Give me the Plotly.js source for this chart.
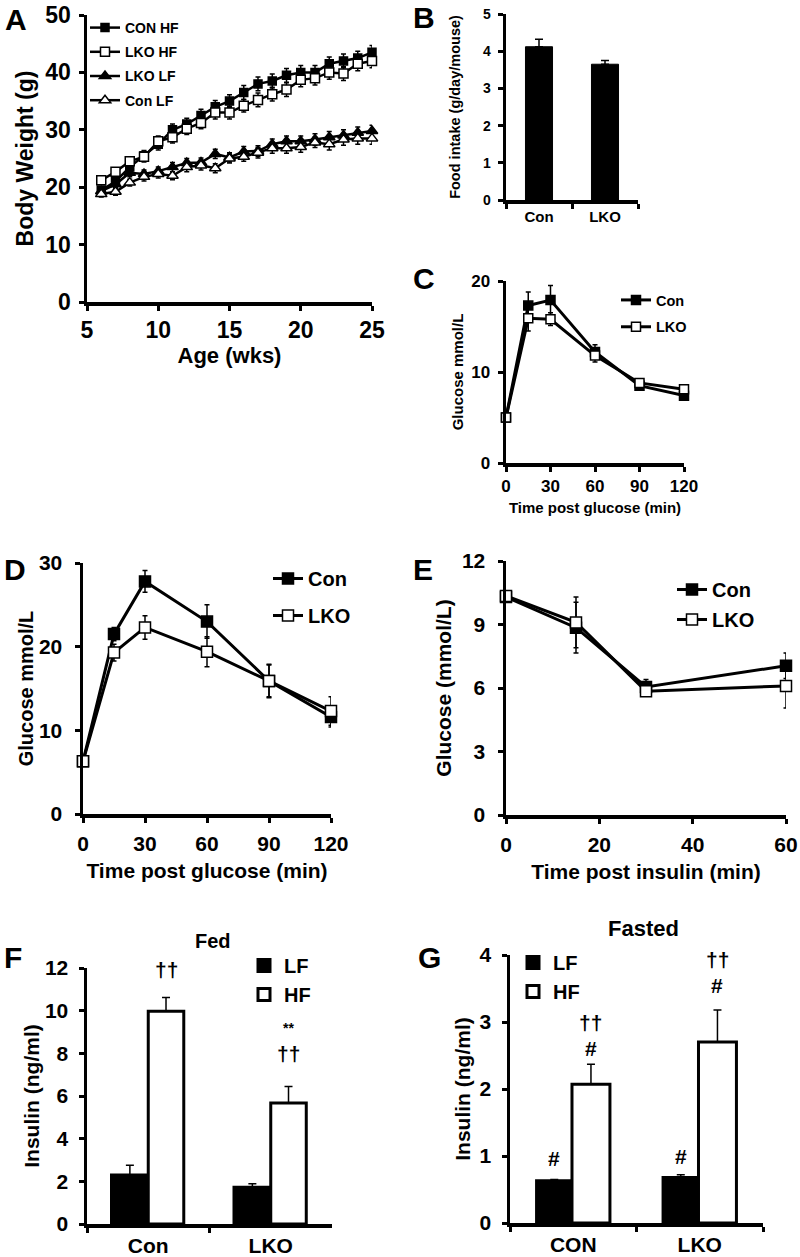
<!DOCTYPE html>
<html>
<head>
<meta charset="utf-8">
<script src="https://cdn.plot.ly/plotly-3.0.1.min.js"></script>
<style>
  html, body { margin: 0; padding: 0; background: white; }
  #plot { width: 800px; height: 1257px; }
</style>
</head>
<body>
<div id="plot"></div>
<script>
// --- panel A: body weight ---
const weeks = [6, 7, 8, 9, 10, 11, 12, 13, 14, 15, 16, 17, 18, 19, 20, 21, 22, 23, 24, 25];
const conHF = [19.5, 21.0, 23.5, 25.5, 27.5, 30.0, 31.0, 32.5, 34.0, 35.0, 36.5, 38.0, 38.5, 39.5, 40.0, 40.0, 41.5, 42.0, 42.5, 43.5];
const conHFerr = [0.6, 0.8, 0.9, 0.9, 1.0, 1.0, 1.0, 1.1, 1.1, 1.1, 1.2, 1.2, 1.2, 1.2, 1.2, 1.2, 1.2, 1.2, 1.2, 1.2];
const lkoHF = [21.2, 22.7, 24.5, 25.3, 28.0, 28.7, 30.2, 31.2, 33.0, 33.0, 34.2, 35.2, 36.2, 37.0, 38.7, 39.0, 40.0, 39.8, 41.5, 42.0];
const lkoHFerr = [0.6, 0.7, 0.8, 0.9, 0.9, 1.0, 1.0, 1.0, 1.1, 1.1, 1.1, 1.2, 1.2, 1.2, 1.2, 1.2, 1.2, 1.2, 1.2, 1.2];
const lkoLF = [19.3, 20.5, 22.5, 22.3, 22.8, 23.5, 24.2, 24.3, 25.8, 25.2, 26.2, 26.3, 27.5, 28.0, 28.0, 28.3, 28.7, 29.0, 29.5, 29.8];
const lkoLFerr = [0.5, 0.6, 0.7, 0.7, 0.7, 0.8, 0.8, 0.8, 0.8, 0.8, 0.9, 0.9, 0.9, 0.9, 0.9, 1.0, 1.0, 1.0, 1.0, 1.0];
const conLF = [18.8, 19.2, 20.8, 21.8, 22.3, 22.0, 23.5, 23.8, 23.3, 25.0, 25.3, 26.0, 26.8, 26.8, 27.0, 27.8, 27.5, 28.3, 28.5, 28.5];
const conLFerr = [0.5, 0.6, 0.6, 0.7, 0.7, 0.7, 0.8, 0.8, 0.8, 0.8, 0.8, 0.9, 0.9, 0.9, 0.9, 0.9, 1.0, 1.0, 1.0, 1.0];

// --- panel B: food intake ---
const genotypes = ['Con', 'LKO'];
const intake = [4.12, 3.65];
const intakeErr = [0.2, 0.1];

// --- panel C: GTT (chow) ---
const gttTime = [0, 15, 30, 60, 90, 120];
const cCon = [5.0, 17.3, 17.9, 12.2, 8.5, 7.4];
const cConErr = [0.3, 1.5, 1.6, 0.8, 0.3, 0.4];
const cLko = [5.0, 15.9, 15.8, 11.8, 8.8, 8.1];
const cLkoErr = [0.3, 1.4, 0.7, 0.7, 0.3, 0.4];

// --- panel D: GTT (HF) ---
const dCon = [6.3, 21.5, 27.8, 23.0, 15.9, 11.6];
const dConErr = [0.5, 0.8, 1.3, 2.0, 2.0, 1.2];
const dLko = [6.3, 19.3, 22.3, 19.4, 15.9, 12.3];
const dLkoErr = [0.5, 1.0, 1.4, 1.8, 1.9, 1.7];

// --- panel E: ITT ---
const ittTime = [0, 15, 30, 60];
const eCon = [10.3, 8.85, 6.05, 7.05];
const eConErr = [0.2, 1.2, 0.35, 0.6];
const eLko = [10.35, 9.1, 5.85, 6.1];
const eLkoErr = [0.2, 1.2, 0.2, 1.05];

// --- panel F/G: insulin ---
const fedLF = [2.3, 1.72], fedLFerr = [0.45, 0.17];
const fedHF = [9.97, 5.67], fedHFerr = [0.65, 0.78];
const fastGroups = ['CON', 'LKO'];
const fastLF = [0.63, 0.68], fastLFerr = [0.02, 0.04];
const fastHF = [2.07, 2.7], fastHFerr = [0.3, 0.48];

const FONT = 'Liberation Sans, Arial, sans-serif';
const W = 800, H = 1257;
const px = (a, b) => [a / W, b / W];
const py = (bottom, top) => [1 - bottom / H, 1 - top / H];
const f = (size) => ({ family: FONT, size: size, color: 'black', weight: 'bold' });

function lineTrace(x, y, err, xa, ya, name, symbol, filled, size, lw, legend) {
  return {
    x: x, y: y, xaxis: xa, yaxis: ya, name: name, legend: legend, legendgroup: legend + name,
    type: 'scatter', mode: 'lines+markers', cliponaxis: false,
    line: { color: 'black', width: lw },
    marker: { symbol: symbol, size: size, color: filled ? 'black' : 'white',
              line: { color: 'black', width: 1.5 } },
    error_y: { type: 'data', array: err, visible: true, color: 'black', thickness: 1.5, width: 2.5 }
  };
}

function barTrace(x, y, err, xa, ya, name, filled, offset, width, legend, show) {
  return {
    x: x, y: y, xaxis: xa, yaxis: ya, name: name, legend: legend, legendgroup: legend + name,
    showlegend: show, type: 'bar', offset: offset, width: width,
    marker: { color: filled ? 'black' : 'white', line: { color: 'black', width: 3 } },
    error_y: { type: 'data', symmetric: false, array: err, arrayminus: err.map(() => 0),
               visible: true, color: 'black', thickness: 1.5, width: 4 }
  };
}

function axis(domain, anchor, extra) {
  return Object.assign({
    domain: domain, anchor: anchor, showline: true, linewidth: 3.5, linecolor: 'black',
    showgrid: false, zeroline: false, ticks: 'outside', ticklen: 5, tickwidth: 3, tickcolor: 'black'
  }, extra);
}

const data = [
  lineTrace(weeks, conHF, conHFerr, 'x', 'y', 'CON HF', 'square', true, 8, 2.5, 'legend'),
  lineTrace(weeks, lkoHF, lkoHFerr, 'x', 'y', 'LKO HF', 'square', false, 9, 2.5, 'legend'),
  lineTrace(weeks, lkoLF, lkoLFerr, 'x', 'y', 'LKO LF', 'triangle-up', true, 10, 2.5, 'legend'),
  lineTrace(weeks, conLF, conLFerr, 'x', 'y', 'Con LF', 'triangle-up', false, 10, 2.5, 'legend'),

  Object.assign(barTrace(genotypes, intake, intakeErr, 'x2', 'y2', 'intake', true, -0.205, 0.41, 'legend', false),
    { marker: { color: 'black', line: { color: 'black', width: 1 } } }),

  lineTrace(gttTime, cCon, cConErr, 'x3', 'y3', 'Con', 'square', true, 9, 3, 'legend2'),
  lineTrace(gttTime, cLko, cLkoErr, 'x3', 'y3', 'LKO', 'square', false, 9, 3, 'legend2'),

  lineTrace(gttTime, dCon, dConErr, 'x4', 'y4', 'Con', 'square', true, 11, 3, 'legend3'),
  lineTrace(gttTime, dLko, dLkoErr, 'x4', 'y4', 'LKO', 'square', false, 11, 3, 'legend3'),

  lineTrace(ittTime, eCon, eConErr, 'x5', 'y5', 'Con', 'square', true, 11, 3, 'legend4'),
  lineTrace(ittTime, eLko, eLkoErr, 'x5', 'y5', 'LKO', 'square', false, 11, 3, 'legend4'),

  barTrace(genotypes, fedLF, fedLFerr, 'x6', 'y6', 'LF', true, -0.3, 0.3, 'legend5', true),
  barTrace(genotypes, fedHF, fedHFerr, 'x6', 'y6', 'HF', false, 0, 0.29, 'legend5', true),

  barTrace(fastGroups, fastLF, fastLFerr, 'x7', 'y7', 'LF', true, -0.29, 0.28, 'legend6', true),
  barTrace(fastGroups, fastHF, fastHFerr, 'x7', 'y7', 'HF', false, -0.01, 0.3, 'legend6', true)
];

const legendBase = { bgcolor: 'rgba(0,0,0,0)', xanchor: 'left', yanchor: 'top', itemwidth: 30,
                     traceorder: 'grouped' };

const layout = {
  width: W, height: H,
  margin: { l: 0, r: 0, t: 0, b: 0 },
  paper_bgcolor: 'white', plot_bgcolor: 'white',
  font: f(14),
  barmode: 'overlay',

  xaxis: axis(px(87, 372), 'y', { range: [5, 25], tickvals: [5, 10, 15, 20, 25], tickfont: f(23),
    ticklabelstandoff: 0, title: { text: 'Age (wks)', font: f(22), standoff: 0 } }),
  yaxis: axis(py(302, 15), 'x', { range: [0, 50], tickvals: [0, 10, 20, 30, 40, 50], tickfont: f(23),
    ticklabelstandoff: 3, title: { text: 'Body Weight (g)', font: f(23), standoff: 6 } }),

  xaxis2: axis(px(506, 638), 'y2', { type: 'category', range: [-0.5, 1.5], tickson: 'boundaries',
    tickfont: f(15) }),
  yaxis2: axis(py(200, 14), 'x2', { range: [0, 5], tickvals: [0, 1, 2, 3, 4, 5], tickfont: f(14),
    ticklabelstandoff: 4, title: { text: 'Food intake (g/day/mouse)', font: f(14.5), standoff: 20 } }),

  xaxis3: axis(px(506, 684), 'y3', { range: [0, 120], tickvals: [0, 30, 60, 90, 120], tickfont: f(17),
    ticklabelstandoff: 0, title: { text: 'Time post glucose (min)', font: f(15), standoff: 8 } }),
  yaxis3: axis(py(463, 281), 'x3', { range: [0, 20], tickvals: [0, 10, 20], tickfont: f(17),
    ticklabelstandoff: 4, title: { text: 'Glucose mmol/L', font: f(15), standoff: 5 } }),

  xaxis4: axis(px(83, 331), 'y4', { range: [0, 120], tickvals: [0, 30, 60, 90, 120], tickfont: f(21),
    ticklabelstandoff: 3, title: { text: 'Time post glucose (min)', font: f(21), standoff: 10 } }),
  yaxis4: axis(py(814, 563), 'x4', { range: [0, 30], tickvals: [0, 10, 20, 30], tickfont: f(21),
    ticklabelstandoff: 8, title: { text: 'Glucose mmol/L', font: f(20), standoff: 1 } }),

  xaxis5: axis(px(506, 786), 'y5', { range: [0, 60], tickvals: [0, 20, 40, 60], tickfont: f(21),
    ticklabelstandoff: 3, title: { text: 'Time post insulin (min)', font: f(21), standoff: 10 } }),
  yaxis5: axis(py(815, 561), 'x5', { range: [0, 12], tickvals: [0, 3, 6, 9, 12], tickfont: f(21),
    ticklabelstandoff: 8, title: { text: 'Glucose (mmol/L)', font: f(21), standoff: 5 } }),

  xaxis6: axis(px(87, 332), 'y6', { type: 'category', range: [-0.5, 1.5], tickson: 'boundaries',
    tickfont: f(21) }),
  yaxis6: axis(py(1224, 968), 'x6', { range: [0, 12], tickvals: [0, 2, 4, 6, 8, 10, 12], tickfont: f(21),
    ticklabelstandoff: 6, title: { text: 'Insulin (ng/ml)', font: f(21), standoff: 0 } }),

  xaxis7: axis(px(510, 763), 'y7', { type: 'category', range: [-0.5, 1.5], tickson: 'boundaries',
    tickfont: f(21) }),
  yaxis7: axis(py(1223, 955), 'x7', { range: [0, 4], tickvals: [0, 1, 2, 3, 4], tickfont: f(21),
    ticklabelstandoff: 6, title: { text: 'Insulin (ng/ml)', font: f(21), standoff: 4 } }),

  legend: Object.assign({}, legendBase, { x: 85 / W, y: 1 - 12 / H, font: f(14), tracegroupgap: 3 }),
  legend2: Object.assign({}, legendBase, { x: 616 / W, y: 1 - 284 / H, font: f(14.5), tracegroupgap: 5 }),
  legend3: Object.assign({}, legendBase, { x: 268 / W, y: 1 - 559 / H, font: f(20), tracegroupgap: 8 }),
  legend4: Object.assign({}, legendBase, { x: 672 / W, y: 1 - 570 / H, font: f(20), tracegroupgap: 1 }),
  legend5: Object.assign({}, legendBase, { x: 244 / W, y: 1 - 946 / H, font: f(20), tracegroupgap: 0 }),
  legend6: Object.assign({}, legendBase, { x: 513 / W, y: 1 - 943 / H, font: f(20), tracegroupgap: 0 }),

  annotations: [
    // panel letters
    { text: 'A', x: 3 / W, y: 1 - 20 / H },
    { text: 'B', x: 411 / W, y: 1 - 18 / H },
    { text: 'C', x: 411 / W, y: 1 - 278 / H },
    { text: 'D', x: 2 / W, y: 1 - 569 / H },
    { text: 'E', x: 411 / W, y: 1 - 569 / H },
    { text: 'F', x: 2 / W, y: 1 - 957 / H },
    { text: 'G', x: 416 / W, y: 1 - 957 / H }
  ].map(a => Object.assign(a, { xref: 'paper', yref: 'paper', xanchor: 'left', yanchor: 'middle',
                                showarrow: false, font: f(30) }))
  .concat([
    { text: 'Fed', xref: 'paper', yref: 'paper', x: 213 / W, y: 1 - 941 / H, font: f(20) },
    { text: 'Fasted', xref: 'paper', yref: 'paper', x: 643 / W, y: 1 - 928 / H, font: f(22) },
    { text: '**', xref: 'x4', yref: 'y4', x: 24, y: 30.7, font: f(14) },
    { text: '††', xref: 'x6', yref: 'y6', x: 0.145, y: 11.95, font: f(21) },
    { text: '**', xref: 'x6', yref: 'y6', x: 1.145, y: 9.2, font: f(14) },
    { text: '††', xref: 'x6', yref: 'y6', x: 1.145, y: 8.0, font: f(21) },
    { text: '#', xref: 'x7', yref: 'y7', x: -0.15, y: 0.97, font: f(21) },
    { text: '#', xref: 'x7', yref: 'y7', x: 0.85, y: 1.0, font: f(21) },
    { text: '††', xref: 'x7', yref: 'y7', x: 0.14, y: 3.0, font: f(21) },
    { text: '#', xref: 'x7', yref: 'y7', x: 0.14, y: 2.6, font: f(21) },
    { text: '††', xref: 'x7', yref: 'y7', x: 1.14, y: 3.94, font: f(21) },
    { text: '#', xref: 'x7', yref: 'y7', x: 1.14, y: 3.55, font: f(21) }
  ].map(a => Object.assign(a, { showarrow: false, xanchor: 'center', yanchor: 'middle' })))
};

Plotly.newPlot('plot', data, layout, { displayModeBar: false, staticPlot: true });
</script>
</body>
</html>
